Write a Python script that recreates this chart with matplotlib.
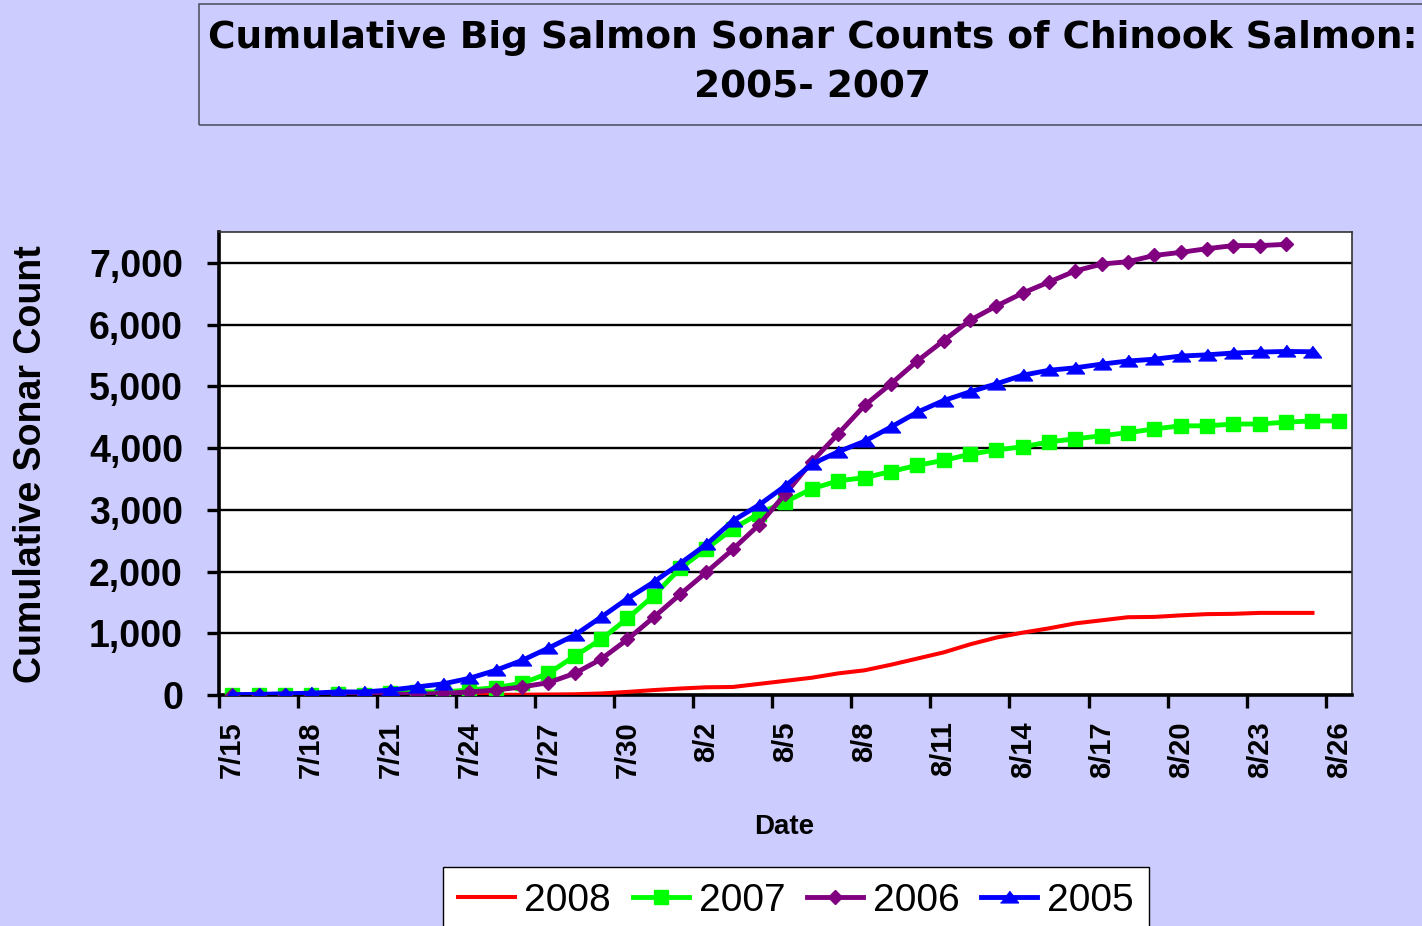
import numpy as np
import matplotlib
matplotlib.use('Agg')
import matplotlib.pyplot as plt
import pandas as pd
from matplotlib.patches import Rectangle
from matplotlib.ticker import StrMethodFormatter

plt.rcParams['font.family'] = ['Liberation Sans', 'DejaVu Sans']

# cumulative sonar counts, one value per day from 7/15
dates = pd.date_range('2005-07-15', '2005-08-26', freq='D')
labels = ['%d/%d' % (d.month, d.day) for d in dates]

y2008 = [0, 0, 0, 0, 0, 0, 0, 0, 0, 0, 2, 5, 8, 12, 25, 50, 80, 105, 125, 130,
         180, 230, 280, 350, 400, 490, 590, 690, 820, 930, 1010, 1080, 1160,
         1210, 1260, 1265, 1290, 1310, 1315, 1330, 1330, 1330]
y2007 = [0, 5, 5, 5, 10, 5, 30, 50, 50, 80, 120, 190, 350, 630, 900, 1240, 1610,
         2050, 2370, 2690, 2940, 3130, 3340, 3470, 3520, 3620, 3720, 3800, 3900,
         3970, 4020, 4100, 4150, 4200, 4250, 4310, 4360, 4360, 4390, 4390, 4420,
         4440, 4440]
y2006 = [0, 0, 0, 0, 0, 0, 10, 15, 25, 50, 80, 130, 200, 350, 580, 900, 1260,
         1630, 1990, 2360, 2760, 3260, 3780, 4230, 4690, 5040, 5410, 5740, 6070,
         6300, 6510, 6690, 6870, 6980, 7020, 7120, 7170, 7230, 7280, 7280, 7300]
y2005 = [5, 10, 20, 30, 50, 50, 80, 130, 180, 270, 400, 560, 760, 970, 1260,
         1560, 1830, 2130, 2440, 2820, 3080, 3390, 3740, 3940, 4110, 4340, 4580,
         4770, 4910, 5040, 5180, 5260, 5300, 5360, 5410, 5440, 5490, 5510, 5540,
         5555, 5565, 5560]

W, H = 1422, 926
fig = plt.figure(figsize=(W / 100, H / 100), dpi=100, facecolor='#CCCCFF')
ax = fig.add_axes([219 / W, 1 - 695 / H, 1133 / W, 463 / H])
ax.set_facecolor('white')

tri = [(-1, -0.6), (1, -0.6), (0, 0.7)]
l8, = ax.plot(np.arange(len(y2008)), y2008, color='#FF0000', lw=2.9, zorder=3)
l7, = ax.plot(np.arange(len(y2007)), y2007, color='#00FF00', lw=3.5, marker='s',
              ms=10.5, zorder=4)
l6, = ax.plot(np.arange(len(y2006)), y2006, color='#800080', lw=3.5, marker='D',
              ms=7.5, zorder=5)
l5, = ax.plot(np.arange(len(y2005)), y2005, color='#0000FF', lw=3.5, marker=tri,
              ms=13, zorder=6)

ax.set_xlim(-0.5, len(dates) - 0.5)
ax.set_ylim(0, 7500)
ax.set_yticks(np.arange(0, 7001, 1000))
ax.yaxis.set_major_formatter(StrMethodFormatter('{x:,.0f}'))
ax.grid(axis='y', color='black', lw=1.7, zorder=1)
ax.set_axisbelow(True)

ax.set_xticks(np.arange(0, len(dates), 3))
ax.set_xticklabels(labels[::3], rotation=90, fontsize=21, fontweight='bold')
ax.set_xticks(np.arange(-0.5, len(dates), 3), minor=True)
ax.tick_params(axis='x', which='major', length=0, pad=19)
ax.tick_params(axis='x', which='minor', length=9, width=2.4, color='black')
ax.tick_params(axis='y', length=9, width=2.4, pad=17, labelsize=27)
for t in ax.get_yticklabels():
    t.set_fontweight('bold')

for s in ['left', 'bottom']:
    ax.spines[s].set_linewidth(2.6)
    ax.spines[s].set_color('black')
for s in ['top', 'right']:
    ax.spines[s].set_linewidth(1.2)
    ax.spines[s].set_color('#333333')

fig.text(31 / W, 1 - 464 / H, 'Cumulative Sonar Count', rotation=90,
         ha='center', va='center', fontsize=27, fontweight='bold')
fig.text(784 / W, 1 - 827 / H, 'Date', ha='center', va='center',
         fontsize=20, fontweight='bold')

# title box
fig.patches.append(Rectangle((199 / W, 1 - 125 / H), 1240 / W, 121 / H,
                             transform=fig.transFigure, fill=False,
                             edgecolor='#555566', lw=1.2))
fig.text(813 / W, 1 - 38 / H, 'Cumulative Big Salmon Sonar Counts of Chinook Salmon:',
         ha='center', va='center', fontsize=27, fontweight='bold',
         family='DejaVu Sans')
fig.text(813 / W, 1 - 88 / H, '2005- 2007', ha='center', va='center',
         fontsize=27, fontweight='bold', family='DejaVu Sans')

leg = fig.legend([l8, l7, l6, l5], ['2008', '2007', '2006', '2005'],
                 loc='upper center', bbox_to_anchor=(796 / W, 1 - 867 / H),
                 ncol=4, fontsize=28, frameon=True, fancybox=False,
                 edgecolor='black', framealpha=1, borderpad=0.4,
                 handlelength=1.45, handletextpad=0.25, columnspacing=0.55,
                 borderaxespad=0, numpoints=1)
leg.get_frame().set_linewidth(1)

plt.savefig('out.png', dpi=100, facecolor=fig.get_facecolor())
